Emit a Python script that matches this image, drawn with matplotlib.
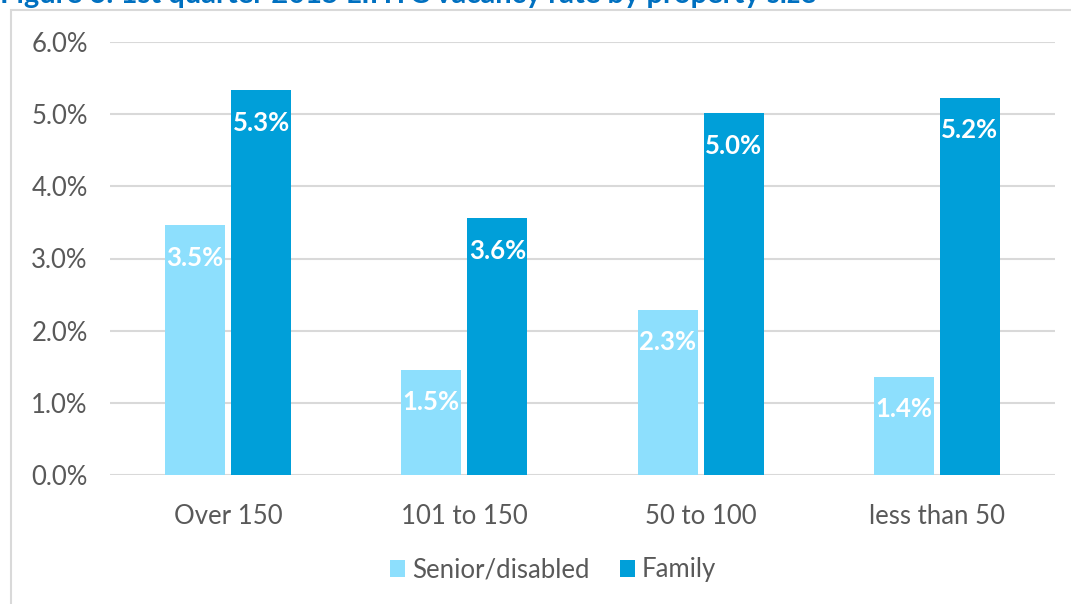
import matplotlib.pyplot as plt
from matplotlib.patches import Rectangle
import numpy as np

categories = ["Over 150", "101 to 150", "50 to 100", "less than 50"]
senior = [3.46, 1.46, 2.29, 1.36]
family = [5.33, 3.56, 5.01, 5.23]
series_names = ["Senior/disabled", "Family"]
title = "Figure 6: 1st quarter 2015 LIHTC vacancy rate by property size"

plt.rcParams['font.family'] = ['Lato', 'DejaVu Sans']
fs = 18.5

fig = plt.figure(figsize=(10.71, 6.04), dpi=100)
ax = fig.add_axes([110 / 1071, 1 - 475 / 604, 945 / 1071, 433 / 604])

# outer chart border
fig.patches.append(Rectangle((11 / 1071, -0.01), 1.1, (604 - 10) / 604 + 0.01,
                             transform=fig.transFigure, fill=False,
                             edgecolor='#D9D9D9', linewidth=1.5))

fig.text(0.0, 1.008, title, color='#0070C0', fontsize=21, fontweight='bold',
         ha='left', va='center')

x = np.arange(len(categories))
w = 0.254
gap = 0.013
b1 = ax.bar(x - w / 2 - gap, senior, w, color='#8DDFFD', label=series_names[0], zorder=3)
b2 = ax.bar(x + w / 2 + gap, family, w, color='#009FD9', label=series_names[1], zorder=3)

for bars, vals in ((b1, senior), (b2, family)):
    for rect, v in zip(bars, vals):
        ax.text(rect.get_x() + rect.get_width() / 2, v - 0.45, f"{v:.1f}%",
                ha='center', va='center', color='white', fontsize=fs,
                fontweight='bold', zorder=4)

ax.set_xlim(-0.5, len(categories) - 0.5)
ax.set_ylim(0, 6)
ax.set_yticks(np.arange(0, 7, 1))
ax.set_yticklabels([f"{t:.1f}%" for t in range(7)])
ax.set_xticks(x)
ax.set_xticklabels(categories)
ax.tick_params(axis='both', length=0, labelsize=fs, colors='#595959')
ax.tick_params(axis='y', pad=16)
ax.tick_params(axis='x', pad=21)
ax.grid(axis='y', color='#D9D9D9', linewidth=1.5, zorder=0)
for s in ax.spines.values():
    s.set_visible(False)

fig.legend(handles=[b1, b2], loc='center', bbox_to_anchor=(553 / 1071, 1 - 570 / 604),
           ncol=2, frameon=False, fontsize=fs, handlelength=0.6, handleheight=0.6,
           handletextpad=0.25, columnspacing=1.2, labelcolor='#595959')

fig.savefig("out.png", dpi=100)
